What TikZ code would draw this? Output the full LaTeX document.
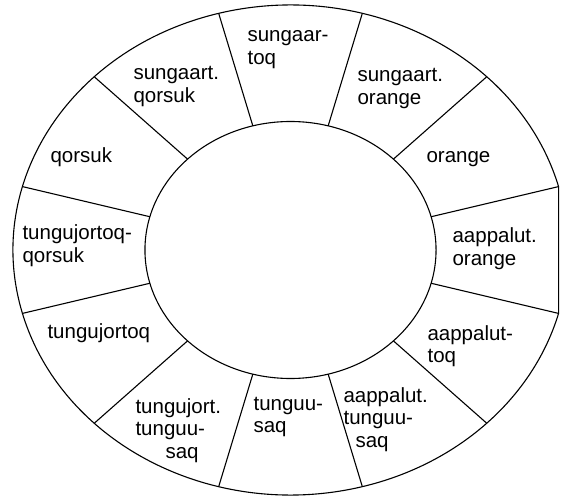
\documentclass[tikz,border=0pt]{standalone}
\usepackage{fontspec}
\setmainfont{Liberation Sans}

\begin{document}
\begin{tikzpicture}[x=1.1327pt,y=1pt,line width=1.1pt,
  lbl/.style={anchor=base west,align=left,inner sep=0pt,
    font=\fontsize{20.5}{22.5}\selectfont}]
  \useasboundingbox (-290.5pt,-247pt) rectangle (270.5pt,250pt);
  \draw (15:245) arc[start angle=15,end angle=345,radius=245] -- cycle;
  \draw (0,0) circle[radius=128.5];
  \foreach \a in {15,45,...,345}
    \draw (\a:128.5) -- (\a:245);
  \node[lbl] (sungaartoq) at (-43.5pt,185.5pt) {sungaar-\\toq};
  \node[lbl] (sungqorsuk) at (-157.5pt,147.5pt) {sungaart.\\qorsuk};
  \node[lbl] (qorsuk) at (-240.5pt,87pt) {qorsuk};
  \node[lbl] (tungqorsuk) at (-268.5pt,-12.5pt) {tungujortoq-\\qorsuk};
  \node[lbl] (tungtoq) at (-243.5pt,-88pt) {tungujortoq};
  \node[lbl] (tungsaq) at (-155.5pt,-208pt) {tungujort.\\tunguu-\\\hspace*{30pt}saq};
  \node[lbl] (tunguusaq) at (-37.5pt,-182.5pt) {tunguu-\\saq};
  \node[lbl] (aappsaq) at (52.5pt,-197pt) {aappalut.\\tunguu-\\\hspace*{12pt}saq};
  \node[lbl] (aapptoq) at (136.5pt,-112.5pt) {aappalut-\\toq};
  \node[lbl] (aapporange) at (161.5pt,-15.5pt) {aappalut.\\orange};
  \node[lbl] (orange) at (135.5pt,87pt) {orange};
  \node[lbl] (sungorange) at (66.5pt,145.5pt) {sungaart.\\orange};
\end{tikzpicture}
\end{document}
